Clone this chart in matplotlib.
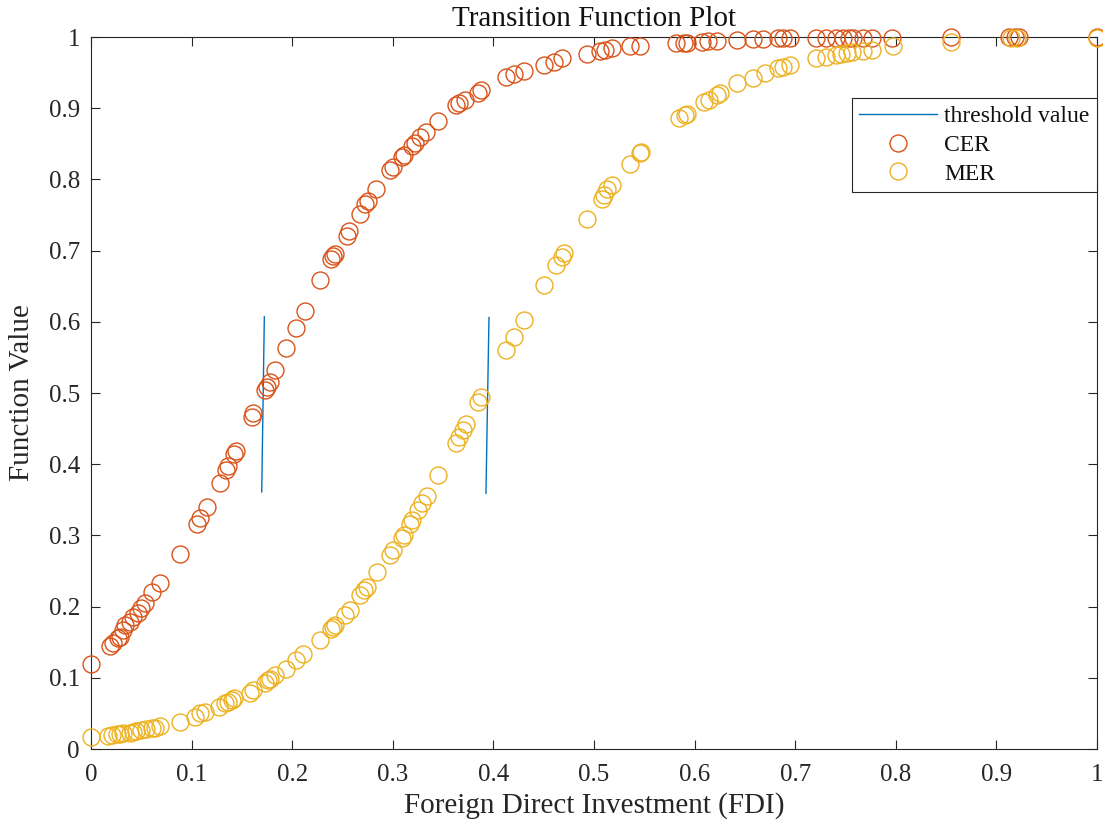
import matplotlib
matplotlib.use("Agg")
import matplotlib.pyplot as plt
import numpy as np

# ---------------- data ----------------
cer_x = [0.000, 0.019, 0.022, 0.027, 0.029, 0.032, 0.034, 0.039, 0.042, 0.047, 0.050, 0.054,
         0.061, 0.069, 0.088, 0.105, 0.108, 0.115, 0.128, 0.134, 0.136, 0.142, 0.144, 0.160,
         0.161, 0.173, 0.175, 0.178, 0.183, 0.194, 0.204, 0.213, 0.228, 0.239, 0.241, 0.243,
         0.254, 0.256, 0.267, 0.272, 0.275, 0.283, 0.297, 0.300, 0.309, 0.311, 0.319, 0.322,
         0.327, 0.333, 0.345, 0.363, 0.366, 0.372, 0.385, 0.388, 0.413, 0.420, 0.430, 0.450,
         0.460, 0.468, 0.493, 0.506, 0.511, 0.518, 0.536, 0.546, 0.582, 0.589, 0.592, 0.607,
         0.613, 0.622, 0.642, 0.658, 0.668, 0.683, 0.688, 0.695, 0.721, 0.731, 0.741, 0.748,
         0.753, 0.757, 0.767, 0.776, 0.796, 0.855, 0.913, 0.918, 0.922, 1.000]
cer_y = [0.119, 0.144, 0.149, 0.156, 0.158, 0.167, 0.174, 0.179, 0.186, 0.191, 0.198, 0.205,
         0.220, 0.233, 0.274, 0.316, 0.325, 0.340, 0.374, 0.392, 0.397, 0.414, 0.418, 0.466,
         0.472, 0.504, 0.508, 0.516, 0.533, 0.563, 0.591, 0.615, 0.659, 0.688, 0.692, 0.695,
         0.720, 0.727, 0.752, 0.766, 0.770, 0.787, 0.813, 0.817, 0.832, 0.834, 0.847, 0.851,
         0.860, 0.867, 0.882, 0.904, 0.907, 0.912, 0.922, 0.926, 0.944, 0.948, 0.952, 0.961,
         0.965, 0.970, 0.976, 0.980, 0.982, 0.985, 0.987, 0.987, 0.991, 0.992, 0.992, 0.993,
         0.994, 0.994, 0.996, 0.997, 0.997, 0.998, 0.998, 0.998, 0.999, 0.999, 0.999, 0.999,
         0.999, 0.999, 0.999, 0.999, 0.999, 1.000, 1.000, 1.000, 1.000, 1.000]

mer_x = [0.000, 0.017, 0.021, 0.026, 0.029, 0.032, 0.039, 0.042, 0.045, 0.050, 0.055, 0.061,
         0.064, 0.069, 0.088, 0.103, 0.108, 0.113, 0.127, 0.133, 0.136, 0.140, 0.142, 0.158,
         0.161, 0.173, 0.176, 0.178, 0.183, 0.194, 0.204, 0.211, 0.228, 0.239, 0.241, 0.243,
         0.252, 0.257, 0.267, 0.271, 0.274, 0.284, 0.297, 0.300, 0.309, 0.311, 0.317, 0.319,
         0.325, 0.329, 0.334, 0.345, 0.363, 0.366, 0.370, 0.373, 0.385, 0.388, 0.413, 0.420,
         0.430, 0.450, 0.462, 0.468, 0.470, 0.493, 0.508, 0.510, 0.513, 0.518, 0.536, 0.546,
         0.547, 0.584, 0.590, 0.592, 0.609, 0.614, 0.622, 0.625, 0.642, 0.658, 0.670, 0.683,
         0.688, 0.695, 0.721, 0.731, 0.741, 0.746, 0.751, 0.756, 0.767, 0.776, 0.797, 0.855,
         0.915, 0.920, 1.000]
mer_y = [0.017, 0.018, 0.020, 0.021, 0.021, 0.022, 0.023, 0.024, 0.025, 0.026, 0.028, 0.030,
         0.030, 0.032, 0.038, 0.045, 0.050, 0.052, 0.059, 0.064, 0.066, 0.069, 0.071, 0.079,
         0.083, 0.092, 0.097, 0.098, 0.104, 0.113, 0.125, 0.133, 0.153, 0.169, 0.171, 0.174,
         0.188, 0.195, 0.216, 0.223, 0.228, 0.248, 0.272, 0.279, 0.296, 0.301, 0.316, 0.322,
         0.336, 0.345, 0.355, 0.385, 0.430, 0.438, 0.448, 0.456, 0.488, 0.495, 0.561, 0.578,
         0.603, 0.652, 0.680, 0.691, 0.696, 0.744, 0.773, 0.778, 0.786, 0.792, 0.822, 0.837,
         0.839, 0.886, 0.890, 0.892, 0.909, 0.912, 0.918, 0.921, 0.935, 0.942, 0.949, 0.956,
         0.958, 0.961, 0.970, 0.972, 0.975, 0.976, 0.978, 0.979, 0.980, 0.982, 0.987, 0.993,
         0.998, 0.998, 0.998]

# threshold segments (two segments, NaN-separated)
thr_x = [0.1697, 0.1723, np.nan, 0.3926, 0.3956]
thr_y = [0.361, 0.607, np.nan, 0.359, 0.606]

x_ticks = [0, 0.1, 0.2, 0.3, 0.4, 0.5, 0.6, 0.7, 0.8, 0.9, 1]
x_tick_labels = ["0", "0.1", "0.2", "0.3", "0.4", "0.5", "0.6", "0.7", "0.8", "0.9", "1"]
y_ticks = x_ticks
y_tick_labels = x_tick_labels

# ---------------- style ----------------
plt.rcParams['font.family'] = ['Liberation Serif', 'DejaVu Serif']
DARK = '#262626'

fig = plt.figure(figsize=(11.03, 8.32), dpi=100)
ax = fig.add_axes([91/1103, 83/832, (1097-91)/1103, (749-37)/832])

ax.plot(thr_x, thr_y, color='#0072BD', lw=1.0, label='threshold value', zorder=3)
ax.plot(cer_x, cer_y, ls='none', marker='o', ms=12.2, mfc='none', mec='#D95319',
        mew=1.0, label='CER', clip_on=False, zorder=4)
ax.plot(mer_x, mer_y, ls='none', marker='o', ms=12.2, mfc='none', mec='#EDB120',
        mew=1.0, label='MER', clip_on=False, zorder=4)

ax.set_xlim(0, 1)
ax.set_ylim(0, 1)
ax.set_xticks(x_ticks)
ax.set_xticklabels(x_tick_labels)
ax.set_yticks(y_ticks)
ax.set_yticklabels(y_tick_labels)

ax.tick_params(direction='in', length=6.5, width=0.8, color=DARK, labelcolor=DARK,
               labelsize=18, top=True, right=True)
ax.tick_params(axis='x', pad=11)
ax.tick_params(axis='y', pad=8)
for s in ax.spines.values():
    s.set_color(DARK)
    s.set_linewidth(0.8)

ax.set_title('Transition Function Plot', fontsize=21, color='#111111', pad=8)
ax.set_xlabel('Foreign Direct Investment (FDI)', fontsize=21, color=DARK, labelpad=4)
ax.set_ylabel('Function Value', fontsize=21, color=DARK, labelpad=10)

leg = ax.legend(loc='upper right', bbox_to_anchor=(1.0, 0.914), borderaxespad=0,
                fontsize=17, frameon=True, fancybox=False, framealpha=1,
                edgecolor=DARK, handlelength=3.3, handletextpad=0.3,
                labelspacing=0.3, borderpad=0.32)
leg.get_frame().set_linewidth(0.8)
for t in leg.get_texts():
    t.set_color('#111111')

fig.savefig('out.png', dpi=100)
